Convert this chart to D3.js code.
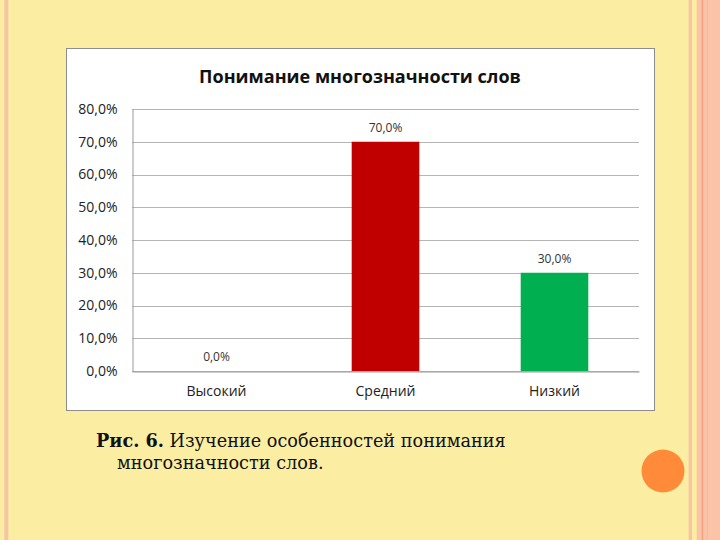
<!DOCTYPE html>
<html><head><meta charset="utf-8">
<script src="https://cdn.jsdelivr.net/npm/d3@7/dist/d3.min.js"></script>
<style>html,body{margin:0;padding:0;background:#FBEEA3;}svg{display:block;}</style>
</head><body>
<svg id="c" width="720" height="540"></svg>
<script>
const categories = ["Высокий", "Средний", "Низкий"];
const values = [0.0, 0.70, 0.30];
const barColors = ["#C00000", "#C00000", "#00B050"];
const yTicks = [0, 0.1, 0.2, 0.3, 0.4, 0.5, 0.6, 0.7, 0.8];
const title = "Понимание многозначности слов";
const captionBold = "Рис. 6.";
const captionLine1 = " Изучение особенностей понимания";
const captionLine2 = "многозначности слов.";

const svg = d3.select("#c");
const loc = d3.formatLocale({decimal: ",", thousands: " ", grouping: [3], currency: ["", ""]});
const fmt = loc.format(".1%");

// slide background and decorative stripes
svg.append("rect").attr("x",0).attr("y",0).attr("width",720).attr("height",540).attr("fill","#FBEEA3");
svg.append("rect").attr("x",4.3).attr("y",0).attr("width",4).attr("height",540).attr("fill","#F8C4A6");
svg.append("rect").attr("x",13).attr("y",0).attr("width",0.8).attr("height",540).attr("fill","#F7E79A");
svg.append("rect").attr("x",688.7).attr("y",0).attr("width",3.3).attr("height",540).attr("fill","#F8C4A6");
svg.append("rect").attr("x",696.7).attr("y",0).attr("width",23.3).attr("height",540).attr("fill","#FBC4A8");
svg.append("rect").attr("x",701.7).attr("y",0).attr("width",1.4).attr("height",540).attr("fill","#F2A07E");
svg.append("rect").attr("x",706.7).attr("y",0).attr("width",1).attr("height",540).attr("fill","#F7B89C");
svg.append("circle").attr("cx",663).attr("cy",471).attr("r",21.5).attr("fill","#FF8B3A");

// chart box
svg.append("rect").attr("x",66.5).attr("y",48.5).attr("width",588).attr("height",362)
  .attr("fill","#FFFFFF").attr("stroke","#8C8C8C").attr("stroke-width",1);

const x = d3.scaleBand().domain(categories).range([132, 639]).paddingInner(0.6).paddingOuter(0.3);
const y = d3.scaleLinear().domain([0, 0.8]).range([371, 109]);

// gridlines
svg.append("g").selectAll("line").data(yTicks).join("line")
  .attr("x1",132).attr("x2",639)
  .attr("y1",d=>Math.round(y(d))+0.5).attr("y2",d=>Math.round(y(d))+0.5)
  .attr("stroke","#B5B5B5").attr("stroke-width",1);

// y axis
const yAxis = svg.append("g").attr("transform","translate(132.5,0)")
  .call(d3.axisLeft(y).tickValues(yTicks).tickFormat(fmt).tickSize(0).tickPadding(15));
yAxis.select(".domain").attr("stroke","#9A9A9A");
yAxis.selectAll("text").attr("font-family","'Open Sans', sans-serif").attr("font-size","14px").attr("fill","#222");

// x axis
const xAxis = svg.append("g").attr("transform","translate(0,371.5)")
  .call(d3.axisBottom(x).tickSize(0).tickPadding(15).tickSizeOuter(0));
xAxis.select(".domain").attr("stroke","#9A9A9A");
xAxis.selectAll("text").attr("font-family","'Open Sans', sans-serif").attr("font-size","14px").attr("fill","#222");

// bars
svg.append("g").selectAll("rect").data(values).join("rect")
  .attr("x",(d,i)=>x(categories[i])).attr("width",x.bandwidth())
  .attr("y",d=>y(d)).attr("height",d=>y(0)-y(d))
  .attr("fill",(d,i)=>barColors[i]);

// data labels
svg.append("g").selectAll("text").data(values).join("text")
  .attr("x",(d,i)=>x(categories[i])+x.bandwidth()/2)
  .attr("y",d=>y(d)-10)
  .attr("text-anchor","middle")
  .attr("font-family","'Open Sans', sans-serif").attr("font-size","12px").attr("fill","#333")
  .text(d=>fmt(d));

// title
const t = svg.append("text").attr("x",360).attr("y",83).attr("text-anchor","middle")
  .attr("font-family","'Open Sans', sans-serif").attr("font-weight","bold").attr("font-size","19px")
  .attr("fill","#111").text(title);
const tl = t.node().getComputedTextLength();
t.attr("font-size", (19*322/tl).toFixed(2)+"px");

// caption
const c1 = svg.append("text").attr("x",96).attr("y",447)
  .attr("font-family","'DejaVu Serif', serif").attr("font-size","17px").attr("fill","#111");
c1.append("tspan").attr("font-weight","bold").text(captionBold);
c1.append("tspan").text(captionLine1);
const cl = c1.node().getComputedTextLength();
const cs = 17*410/cl;
c1.attr("font-size", cs.toFixed(2)+"px");
svg.append("text").attr("x",117).attr("y",469)
  .attr("font-family","'DejaVu Serif', serif").attr("font-size", cs.toFixed(2)+"px").attr("fill","#111")
  .text(captionLine2);
</script>
</body></html>
